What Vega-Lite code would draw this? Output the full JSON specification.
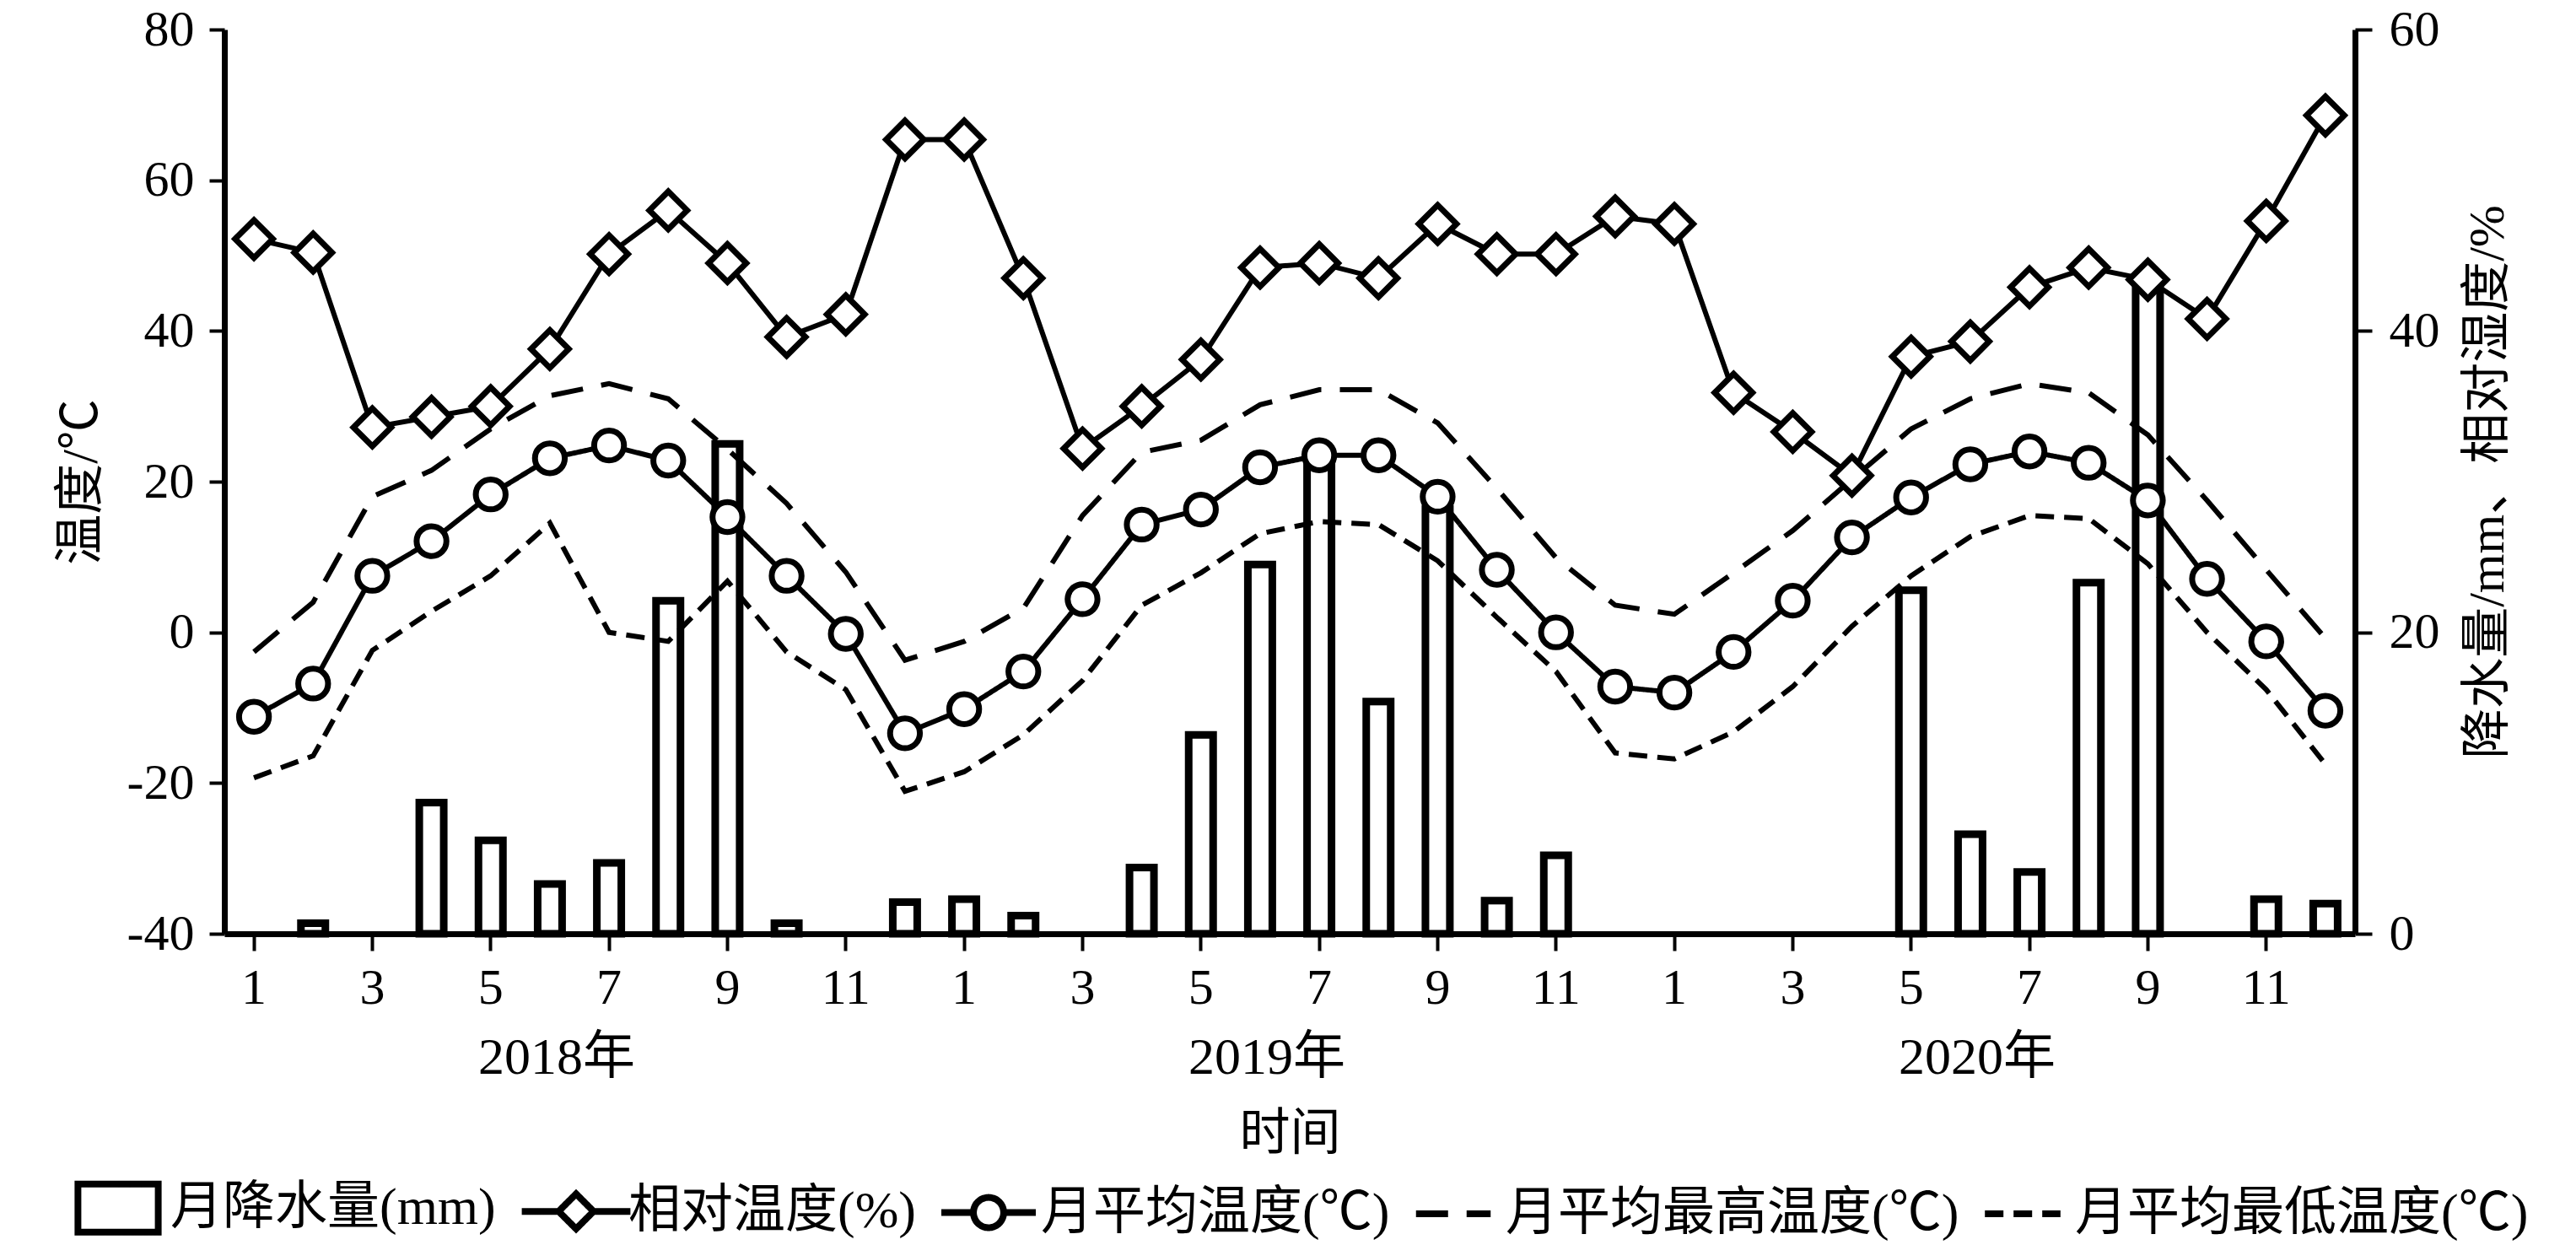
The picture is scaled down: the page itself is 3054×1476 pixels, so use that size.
{
  "$schema": "https://vega.github.io/schema/vega-lite/v6.json",
  "width": 2526,
  "height": 1072,
  "autosize": {"type": "none"},
  "padding": {"left": 266, "top": 35, "right": 262, "bottom": 369},
  "background": "white",
  "config": {
    "font": "Liberation Serif, Noto Sans CJK SC",
    "view": {"stroke": null},
    "axis": {
      "domainColor": "black", "domainWidth": 7, "tickColor": "black", "tickWidth": 4,
      "labelColor": "black", "titleColor": "black",
      "labelFont": "Liberation Serif, Noto Sans CJK SC", "titleFont": "Liberation Serif, Noto Sans CJK SC",
      "labelFontSize": 60, "titleFontSize": 60, "titleFontWeight": "normal", "grid": false, "zindex": 1
    },
    "legend": {
      "labelFont": "Liberation Serif, Noto Sans CJK SC", "labelFontSize": 62, "labelColor": "black",
      "labelLimit": 2000, "labelOffset": 2, "symbolSize": 12544, "symbolStrokeWidth": 8,
      "symbolStrokeColor": "black", "symbolFillColor": "white", "symbolOpacity": 1,
      "columnPadding": 14, "padding": 0
    }
  },
  "datasets": {
    "rain": [
      {"t": 2, "p": 0.7}, {"t": 4, "p": 8.7}, {"t": 5, "p": 6.2}, {"t": 6, "p": 3.3}, {"t": 7, "p": 4.7},
      {"t": 8, "p": 22.1}, {"t": 9, "p": 32.5}, {"t": 10, "p": 0.7}, {"t": 12, "p": 2.1}, {"t": 13, "p": 2.3},
      {"t": 14, "p": 1.2}, {"t": 16, "p": 4.4}, {"t": 17, "p": 13.2}, {"t": 18, "p": 24.5}, {"t": 19, "p": 31.5},
      {"t": 20, "p": 15.4}, {"t": 21, "p": 28.2}, {"t": 22, "p": 2.2}, {"t": 23, "p": 5.2}, {"t": 29, "p": 22.8},
      {"t": 30, "p": 6.6}, {"t": 31, "p": 4.1}, {"t": 32, "p": 23.3}, {"t": 33, "p": 43.1}, {"t": 35, "p": 2.3},
      {"t": 36, "p": 2.0}
    ],
    "hum": [
      {"t": 1, "h": 46.1}, {"t": 2, "h": 45.2}, {"t": 3, "h": 33.6}, {"t": 4, "h": 34.3}, {"t": 5, "h": 35.0},
      {"t": 6, "h": 38.8}, {"t": 7, "h": 45.1}, {"t": 8, "h": 48.0}, {"t": 9, "h": 44.5}, {"t": 10, "h": 39.6},
      {"t": 11, "h": 41.1}, {"t": 12, "h": 52.7}, {"t": 13, "h": 52.7}, {"t": 14, "h": 43.5}, {"t": 15, "h": 32.2},
      {"t": 16, "h": 35.0}, {"t": 17, "h": 38.1}, {"t": 18, "h": 44.2}, {"t": 19, "h": 44.5}, {"t": 20, "h": 43.5},
      {"t": 21, "h": 47.1}, {"t": 22, "h": 45.1}, {"t": 23, "h": 45.1}, {"t": 24, "h": 47.6}, {"t": 25, "h": 47.1},
      {"t": 26, "h": 35.9}, {"t": 27, "h": 33.3}, {"t": 28, "h": 30.4}, {"t": 29, "h": 38.3}, {"t": 30, "h": 39.3},
      {"t": 31, "h": 42.9}, {"t": 32, "h": 44.2}, {"t": 33, "h": 43.4}, {"t": 34, "h": 40.8}, {"t": 35, "h": 47.3},
      {"t": 36, "h": 54.3}
    ],
    "years": [
      {"t": 6, "label": "2018年"}, {"t": 18, "label": "2019年"}, {"t": 30, "label": "2020年"}
    ],
    "series": [
      {"t": 1, "s": "月降水量(mm)"}, {"t": 1, "s": "相对温度(%)"}, {"t": 1, "s": "月平均温度(℃)"},
      {"t": 1, "s": "月平均最高温度(℃)"}, {"t": 1, "s": "月平均最低温度(℃)"}
    ],
    "temp": [
      {"t": 1, "s": "月平均温度(℃)", "v": -11.2}, {"t": 2, "s": "月平均温度(℃)", "v": -6.8}, {"t": 3, "s": "月平均温度(℃)", "v": 7.5},
      {"t": 4, "s": "月平均温度(℃)", "v": 12.1}, {"t": 5, "s": "月平均温度(℃)", "v": 18.3}, {"t": 6, "s": "月平均温度(℃)", "v": 23.1},
      {"t": 7, "s": "月平均温度(℃)", "v": 24.8}, {"t": 8, "s": "月平均温度(℃)", "v": 22.8}, {"t": 9, "s": "月平均温度(℃)", "v": 15.3},
      {"t": 10, "s": "月平均温度(℃)", "v": 7.5}, {"t": 11, "s": "月平均温度(℃)", "v": -0.2}, {"t": 12, "s": "月平均温度(℃)", "v": -13.4},
      {"t": 13, "s": "月平均温度(℃)", "v": -10.2}, {"t": 14, "s": "月平均温度(℃)", "v": -5.2}, {"t": 15, "s": "月平均温度(℃)", "v": 4.4},
      {"t": 16, "s": "月平均温度(℃)", "v": 14.3}, {"t": 17, "s": "月平均温度(℃)", "v": 16.3}, {"t": 18, "s": "月平均温度(℃)", "v": 21.9},
      {"t": 19, "s": "月平均温度(℃)", "v": 23.5}, {"t": 20, "s": "月平均温度(℃)", "v": 23.5}, {"t": 21, "s": "月平均温度(℃)", "v": 18.0},
      {"t": 22, "s": "月平均温度(℃)", "v": 8.3}, {"t": 23, "s": "月平均温度(℃)", "v": 0.0}, {"t": 24, "s": "月平均温度(℃)", "v": -7.2},
      {"t": 25, "s": "月平均温度(℃)", "v": -8.0}, {"t": 26, "s": "月平均温度(℃)", "v": -2.6}, {"t": 27, "s": "月平均温度(℃)", "v": 4.2},
      {"t": 28, "s": "月平均温度(℃)", "v": 12.6}, {"t": 29, "s": "月平均温度(℃)", "v": 17.9}, {"t": 30, "s": "月平均温度(℃)", "v": 22.3},
      {"t": 31, "s": "月平均温度(℃)", "v": 24.0}, {"t": 32, "s": "月平均温度(℃)", "v": 22.5}, {"t": 33, "s": "月平均温度(℃)", "v": 17.5},
      {"t": 34, "s": "月平均温度(℃)", "v": 7.1}, {"t": 35, "s": "月平均温度(℃)", "v": -1.2}, {"t": 36, "s": "月平均温度(℃)", "v": -10.4},
      {"t": 1, "s": "月平均最高温度(℃)", "v": -2.6}, {"t": 2, "s": "月平均最高温度(℃)", "v": 4.0}, {"t": 3, "s": "月平均最高温度(℃)", "v": 18.0},
      {"t": 4, "s": "月平均最高温度(℃)", "v": 21.5}, {"t": 5, "s": "月平均最高温度(℃)", "v": 27.0}, {"t": 6, "s": "月平均最高温度(℃)", "v": 31.4},
      {"t": 7, "s": "月平均最高温度(℃)", "v": 33.0}, {"t": 8, "s": "月平均最高温度(℃)", "v": 31.0}, {"t": 9, "s": "月平均最高温度(℃)", "v": 24.3},
      {"t": 10, "s": "月平均最高温度(℃)", "v": 17.1}, {"t": 11, "s": "月平均最高温度(℃)", "v": 8.0}, {"t": 12, "s": "月平均最高温度(℃)", "v": -3.7},
      {"t": 13, "s": "月平均最高温度(℃)", "v": -1.2}, {"t": 14, "s": "月平均最高温度(℃)", "v": 3.2}, {"t": 15, "s": "月平均最高温度(℃)", "v": 15.5},
      {"t": 16, "s": "月平均最高温度(℃)", "v": 23.9}, {"t": 17, "s": "月平均最高温度(℃)", "v": 25.5}, {"t": 18, "s": "月平均最高温度(℃)", "v": 30.2},
      {"t": 19, "s": "月平均最高温度(℃)", "v": 32.2}, {"t": 20, "s": "月平均最高温度(℃)", "v": 32.2}, {"t": 21, "s": "月平均最高温度(℃)", "v": 27.8},
      {"t": 22, "s": "月平均最高温度(℃)", "v": 19.1}, {"t": 23, "s": "月平均最高温度(℃)", "v": 9.9}, {"t": 24, "s": "月平均最高温度(℃)", "v": 3.6},
      {"t": 25, "s": "月平均最高温度(℃)", "v": 2.4}, {"t": 26, "s": "月平均最高温度(℃)", "v": 7.9}, {"t": 27, "s": "月平均最高温度(℃)", "v": 13.5},
      {"t": 28, "s": "月平均最高温度(℃)", "v": 20.3}, {"t": 29, "s": "月平均最高温度(℃)", "v": 27.0}, {"t": 30, "s": "月平均最高温度(℃)", "v": 31.0},
      {"t": 31, "s": "月平均最高温度(℃)", "v": 33.0}, {"t": 32, "s": "月平均最高温度(℃)", "v": 31.8}, {"t": 33, "s": "月平均最高温度(℃)", "v": 26.2},
      {"t": 34, "s": "月平均最高温度(℃)", "v": 17.5}, {"t": 35, "s": "月平均最高温度(℃)", "v": 8.3}, {"t": 36, "s": "月平均最高温度(℃)", "v": -0.8},
      {"t": 1, "s": "月平均最低温度(℃)", "v": -19.3}, {"t": 2, "s": "月平均最低温度(℃)", "v": -16.4}, {"t": 3, "s": "月平均最低温度(℃)", "v": -2.4},
      {"t": 4, "s": "月平均最低温度(℃)", "v": 2.8}, {"t": 5, "s": "月平均最低温度(℃)", "v": 7.5}, {"t": 6, "s": "月平均最低温度(℃)", "v": 14.5},
      {"t": 7, "s": "月平均最低温度(℃)", "v": 0.0}, {"t": 8, "s": "月平均最低温度(℃)", "v": -1.2}, {"t": 9, "s": "月平均最低温度(℃)", "v": 6.8},
      {"t": 10, "s": "月平均最低温度(℃)", "v": -2.6}, {"t": 11, "s": "月平均最低温度(℃)", "v": -7.6}, {"t": 12, "s": "月平均最低温度(℃)", "v": -21.1},
      {"t": 13, "s": "月平均最低温度(℃)", "v": -18.5}, {"t": 14, "s": "月平均最低温度(℃)", "v": -13.6}, {"t": 15, "s": "月平均最低温度(℃)", "v": -6.4},
      {"t": 16, "s": "月平均最低温度(℃)", "v": 3.6}, {"t": 17, "s": "月平均最低温度(℃)", "v": 7.9}, {"t": 18, "s": "月平均最低温度(℃)", "v": 13.1},
      {"t": 19, "s": "月平均最低温度(℃)", "v": 14.7}, {"t": 20, "s": "月平均最低温度(℃)", "v": 14.3}, {"t": 21, "s": "月平均最低温度(℃)", "v": 9.5},
      {"t": 22, "s": "月平均最低温度(℃)", "v": 2.0}, {"t": 23, "s": "月平均最低温度(℃)", "v": -5.2}, {"t": 24, "s": "月平均最低温度(℃)", "v": -16.0},
      {"t": 25, "s": "月平均最低温度(℃)", "v": -16.8}, {"t": 26, "s": "月平均最低温度(℃)", "v": -13.2}, {"t": 27, "s": "月平均最低温度(℃)", "v": -7.2},
      {"t": 28, "s": "月平均最低温度(℃)", "v": 0.8}, {"t": 29, "s": "月平均最低温度(℃)", "v": 7.5}, {"t": 30, "s": "月平均最低温度(℃)", "v": 12.7},
      {"t": 31, "s": "月平均最低温度(℃)", "v": 15.5}, {"t": 32, "s": "月平均最低温度(℃)", "v": 15.1}, {"t": 33, "s": "月平均最低温度(℃)", "v": 9.1},
      {"t": 34, "s": "月平均最低温度(℃)", "v": 0.0}, {"t": 35, "s": "月平均最低温度(℃)", "v": -7.6}, {"t": 36, "s": "月平均最低温度(℃)", "v": -17.5}
    ]
  },
  "encoding": {
    "x": {
      "field": "t", "type": "ordinal",
      "scale": {"domain": [1,2,3,4,5,6,7,8,9,10,11,12,13,14,15,16,17,18,19,20,21,22,23,24,25,26,27,28,29,30,31,32,33,34,35,36], "paddingInner": 0.587, "paddingOuter": 0.2935},
      "axis": {
        "title": "时间", "values": [1,3,5,7,9,11,13,15,17,19,21,23,25,27,29,31,33,35],
        "labelExpr": "(datum.value - 1) % 12 + 1", "labelAngle": 0, "labelOverlap": false,
        "tickSize": 20, "labelPadding": 15, "titlePadding": 114
      }
    }
  },
  "layer": [
    {
      "encoding": {
        "y": {
          "type": "quantitative",
          "scale": {"domain": [0, 60], "nice": false},
          "axis": {
            "orient": "right", "title": "降水量/mm、相对湿度/%", "values": [0, 20, 40, 60],
            "tickSize": 20, "labelPadding": 20, "titleAngle": 270, "titleBaseline": "top", "titlePadding": 28
          }
        }
      },
      "layer": [
        {
          "data": {"name": "rain"},
          "mark": {"type": "bar", "fill": "white", "stroke": "black", "strokeWidth": 9},
          "encoding": {"y": {"field": "p"}}
        },
        {
          "data": {"name": "years"},
          "mark": {"type": "text", "fontSize": 62, "font": "Liberation Serif, Noto Sans CJK SC", "baseline": "alphabetic", "align": "center", "dy": 166, "dx": 8, "color": "black"},
          "encoding": {
            "y": {"datum": 0},
            "text": {"field": "label", "type": "nominal"}
          }
        }
      ]
    },
    {
      "encoding": {
        "y": {
          "field": "v", "type": "quantitative",
          "scale": {"domain": [-40, 80], "nice": false, "zero": false},
          "axis": {
            "orient": "left", "title": "温度/℃", "values": [-40, -20, 0, 20, 40, 60, 80],
            "labelExpr": "'' + datum.value", "tickSize": 18, "labelPadding": 18, "titlePadding": 23
          }
        }
      },
      "layer": [
        {
          "data": {"name": "temp"},
          "mark": {"type": "line", "color": "black", "strokeWidth": 6},
          "encoding": {
            "strokeDash": {
              "field": "s", "type": "nominal",
              "scale": {
                "domain": ["月降水量(mm)", "相对温度(%)", "月平均温度(℃)", "月平均最高温度(℃)", "月平均最低温度(℃)"],
                "range": [[1, 0], [1, 0], [1, 0], [38, 22], [22, 12]]
              }
            }
          }
        },
        {
          "data": {"name": "temp"},
          "transform": [{"filter": "datum.s == '月平均温度(℃)'"}],
          "mark": {"type": "point", "shape": "circle", "size": 1250, "filled": true, "fill": "white", "stroke": "black", "strokeWidth": 7, "opacity": 1}
        },
        {
          "data": {"name": "series"},
          "mark": {"type": "point", "filled": false, "color": "black", "opacity": 0},
          "encoding": {
            "y": {"datum": 80},
            "shape": {
              "field": "s", "type": "nominal",
              "scale": {
                "domain": ["月降水量(mm)", "相对温度(%)", "月平均温度(℃)", "月平均最高温度(℃)", "月平均最低温度(℃)"],
                "range": [
                  "M-0.85,-0.51H0.85V0.51H-0.85Z",
                  "M-1.15,0H-0.37M-0.37,0L0,-0.37L0.37,0L0,0.37ZM0.37,0H1.15",
                  "M-1,0H-0.32M-0.32,0C-0.32,-0.177 -0.177,-0.32 0,-0.32C0.177,-0.32 0.32,-0.177 0.32,0C0.32,0.177 0.177,0.32 0,0.32C-0.177,0.32 -0.32,0.177 -0.32,0ZM0.32,0H1",
                  "M-0.79,0H0.79",
                  "M-0.8,0H0.8"
                ]
              },
              "legend": {"title": null, "orient": "none", "legendX": -186, "legendY": 1337, "direction": "horizontal", "columns": 5}
            },
            "strokeDash": {
              "field": "s", "type": "nominal",
              "scale": {
                "domain": ["月降水量(mm)", "相对温度(%)", "月平均温度(℃)", "月平均最高温度(℃)", "月平均最低温度(℃)"],
                "range": [[1, 0], [1, 0], [1, 0], [38, 22], [22, 12]]
              },
              "legend": {"title": null, "orient": "none", "legendX": -186, "legendY": 1337, "direction": "horizontal", "columns": 5}
            }
          }
        }
      ]
    },
    {
      "data": {"name": "hum"},
      "encoding": {
        "y": {"field": "h", "type": "quantitative", "scale": {"domain": [0, 60], "nice": false}, "axis": null}
      },
      "layer": [
        {"mark": {"type": "line", "color": "black", "strokeWidth": 6}},
        {"mark": {"type": "point", "shape": "diamond", "size": 2000, "filled": true, "fill": "white", "stroke": "black", "strokeWidth": 7, "opacity": 1}}
      ]
    }
  ],
  "resolve": {"scale": {"y": "independent"}}
}
